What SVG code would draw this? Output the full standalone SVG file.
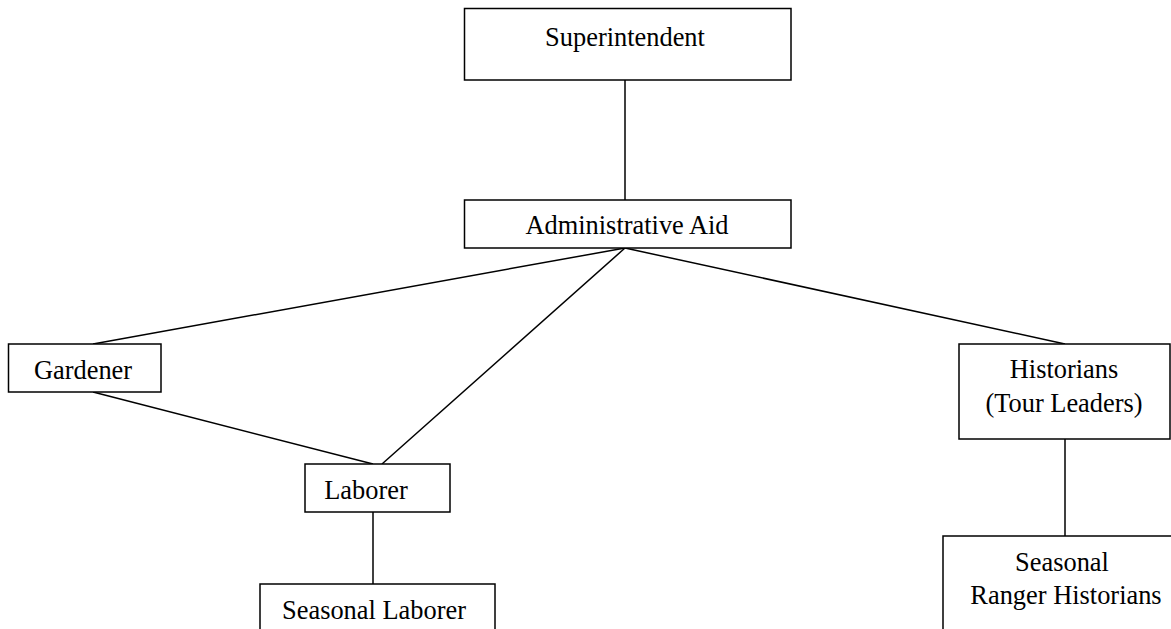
<svg xmlns="http://www.w3.org/2000/svg" width="1171" height="629" viewBox="0 0 1171 629">
<style>
rect{fill:#fff;stroke:#000;stroke-width:1.5}
line{stroke:#000;stroke-width:1.5}
text{font-family:"Liberation Serif","Times New Roman",serif;font-size:26.4px;fill:#000;text-anchor:middle}
</style>
<rect x="0" y="0" width="1171" height="629" style="stroke:none"/>
<g id="connectors">
<line x1="625" y1="80" x2="625" y2="200"/>
<line x1="625" y1="248" x2="93" y2="344"/>
<line x1="625" y1="248" x2="382" y2="464"/>
<line x1="625" y1="248" x2="1065" y2="344"/>
<line x1="93" y1="392" x2="373" y2="464"/>
<line x1="373" y1="512" x2="373" y2="584"/>
<line x1="1065" y1="439" x2="1065" y2="536"/>
</g>
<g id="superintendent"><rect x="464.5" y="8.5" width="326.5" height="71.5"/><text x="625" y="46">Superintendent</text></g>
<g id="admin"><rect x="464.5" y="200" width="326.5" height="48"/><text x="627" y="234">Administrative Aid</text></g>
<g id="gardener"><rect x="8.5" y="344" width="152.5" height="48"/><text x="83" y="379">Gardener</text></g>
<g id="laborer"><rect x="305" y="464" width="145" height="48"/><text x="366" y="499">Laborer</text></g>
<g id="seasonal-laborer"><rect x="260" y="584" width="235" height="60"/><text x="374" y="619">Seasonal Laborer</text></g>
<g id="historians"><rect x="959" y="344" width="211" height="95"/><text x="1064" y="378">Historians</text><text x="1064" y="412">(Tour Leaders)</text></g>
<g id="seasonal-ranger"><rect x="943" y="536" width="240" height="110"/><text x="1062" y="571">Seasonal</text><text x="1066" y="604">Ranger Historians</text></g>
</svg>
